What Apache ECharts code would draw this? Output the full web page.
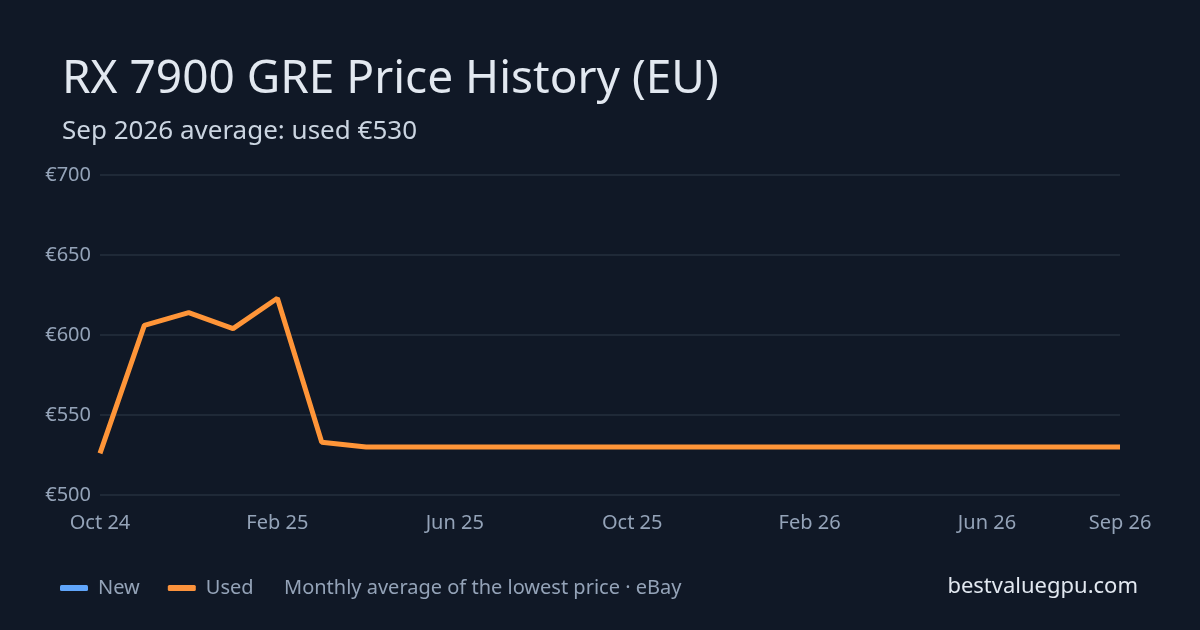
<!DOCTYPE html>
<html>
<head>
<meta charset="utf-8">
<script src="https://cdn.jsdelivr.net/npm/echarts@6/dist/echarts.min.js"></script>
<style>
  html, body { margin: 0; padding: 0; background: #101826; }
  #chart { width: 1200px; height: 630px; }
</style>
</head>
<body>
<div id="chart"></div>
<script>
// months Oct 24 .. Sep 26
var months = ['Oct 24', 'Nov 24', 'Dec 24', 'Jan 25', 'Feb 25', 'Mar 25', 'Apr 25', 'May 25',
  'Jun 25', 'Jul 25', 'Aug 25', 'Sep 25', 'Oct 25', 'Nov 25', 'Dec 25', 'Jan 26',
  'Feb 26', 'Mar 26', 'Apr 26', 'May 26', 'Jun 26', 'Jul 26', 'Aug 26', 'Sep 26'];
var usedPrices = [526, 606, 614, 604, 623, 533, 530, 530, 530, 530, 530, 530,
  530, 530, 530, 530, 530, 530, 530, 530, 530, 530, 530, 530];
var newPrices = months.map(function () { return null; });
var yTicks = [500, 550, 600, 650, 700];

var font = '"Noto Sans", sans-serif';
var chart = echarts.init(document.getElementById('chart'));

var option = {
  backgroundColor: '#101826',
  textStyle: { fontFamily: font },
  legend: {
    left: 55,
    top: 573,
    icon: 'roundRect',
    itemWidth: 28,
    itemHeight: 6,
    itemGap: 28,
    textStyle: { color: '#94a3b8', fontSize: 20, fontFamily: font, padding: [0, 0, 0, 5] },
    data: ['New', 'Used']
  },
  grid: { left: 100, right: 80, top: 175, bottom: 135 },
  xAxis: {
    type: 'category',
    boundaryGap: false,
    data: months,
    axisLine: { show: false },
    axisTick: { show: false },
    axisLabel: {
      color: '#94a3b8',
      fontSize: 20,
      margin: 18,
      interval: function (i) { return i % 4 === 0 || i === months.length - 1; }
    }
  },
  yAxis: {
    type: 'value',
    min: yTicks[0],
    max: yTicks[yTicks.length - 1],
    interval: 50,
    axisLabel: {
      color: '#94a3b8',
      fontSize: 20,
      margin: 9,
      formatter: function (v) { return '€' + v; }
    },
    splitLine: { lineStyle: { color: '#1f2937', width: 2 } }
  },
  series: [
    {
      name: 'New',
      type: 'line',
      data: newPrices,
      color: '#60a5fa',
      showSymbol: false,
      lineStyle: { width: 5 }
    },
    {
      name: 'Used',
      type: 'line',
      data: usedPrices,
      color: '#fb923c',
      showSymbol: false,
      lineStyle: { width: 5, color: '#ff9538' }
    }
  ],
  graphic: [
    {
      type: 'text',
      left: 62,
      top: 57,
      style: {
        text: 'RX 7900 GRE Price History (EU)',
        fill: '#e2e8f0',
        font: '46px ' + font
      }
    },
    {
      type: 'text',
      left: 62,
      top: 119,
      style: {
        text: 'Sep 2026 average: used €530',
        fill: '#cbd5e1',
        font: '26px ' + font
      }
    },
    {
      type: 'text',
      left: 284,
      top: 578,
      style: {
        text: 'Monthly average of the lowest price · eBay',
        fill: '#94a3b8',
        font: '20px ' + font
      }
    },
    {
      type: 'text',
      right: 62,
      top: 576,
      style: {
        text: 'bestvaluegpu.com',
        fill: '#e2e8f0',
        font: '22px ' + font
      }
    }
  ]
};

chart.setOption(option);
</script>
</body>
</html>
